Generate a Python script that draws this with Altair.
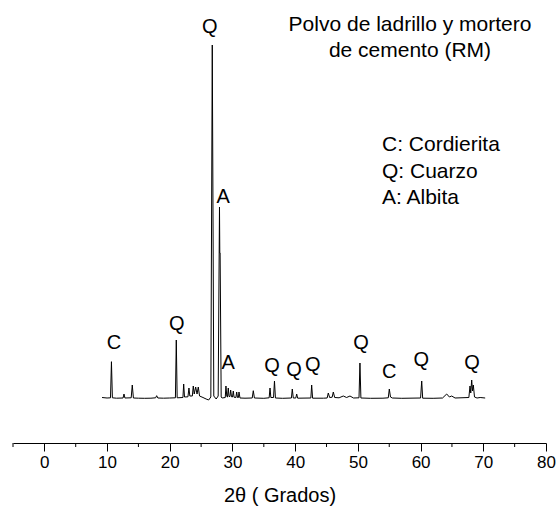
import altair as alt
import pandas as pd

# ---- XRD trace (2-theta in degrees, intensity in counts) ----
two_theta = [
    9.2, 10.0, 10.55, 10.70, 10.85, 11.5, 12.55, 12.70, 12.85, 13.85, 14.02, 14.2,
    15.0, 16.0, 17.0, 17.75, 17.91, 18.1, 19.0, 20.0, 20.9, 21.04, 21.18,
    22.1, 22.22, 22.35, 22.9, 23.06, 23.2, 23.6, 23.75, 23.9, 24.13, 24.35, 24.55, 24.75,
    25.3, 25.8, 26.2, 26.55, 26.78, 27.02, 27.4, 27.72, 27.93, 27.98, 28.03, 28.2, 28.35,
    28.85, 28.96, 29.1, 29.2, 29.33, 29.45, 29.6, 29.71, 29.85, 30.0, 30.13, 30.25,
    30.55, 30.67, 30.8, 30.95, 31.04, 31.2, 32.0, 33.15, 33.32, 33.5, 35.0,
    35.85, 35.99, 36.12, 36.55, 36.70, 36.85, 38.0, 39.4, 39.54, 39.7, 40.1, 40.24, 40.4,
    42.5, 42.63, 42.78, 44.5, 45.1, 45.28, 45.5, 45.9, 46.08, 46.3, 47.0, 47.67, 48.2,
    48.74, 49.3, 50.18, 50.33, 50.48, 52.0, 54.0, 54.85, 55.01, 55.2, 55.5, 57.0,
    60.0, 60.18, 60.33, 62.0, 63.5, 64.16, 64.6, 64.96, 65.5, 67.7, 67.88, 68.0,
    68.15, 68.28, 68.41, 68.6, 69.0, 69.5, 70.3,
]
intensity = [
    455, 450, 452, 813, 452, 448, 450, 490, 450, 452, 580, 450,
    448, 447, 448, 452, 473, 450, 448, 450, 452, 1030, 452,
    455, 590, 460, 462, 550, 470, 470, 570, 490, 560, 490, 560, 470,
    455, 440, 430, 460, 3980, 470, 440, 470, 2360, 1900, 1900, 460, 450,
    455, 570, 465, 460, 550, 465, 465, 530, 462, 460, 520, 458,
    455, 510, 455, 455, 510, 450, 448, 450, 523, 450, 447,
    452, 550, 455, 455, 620, 450, 447, 450, 540, 450, 450, 490, 448,
    450, 580, 448, 448, 450, 500, 455, 458, 510, 455, 452, 470, 455,
    470, 450, 452, 800, 450, 447, 448, 452, 540, 460, 450, 447,
    450, 620, 448, 447, 450, 490, 460, 470, 450, 455, 570, 500,
    630, 520, 580, 460, 450, 455, 450,
]

# ---- phase labels placed above the peaks ----
peak_label = ["Q", "A", "Q", "C", "A", "Q", "Q", "Q", "Q", "C", "Q", "Q"]
label_theta = [26.4, 28.5, 21.1, 11.1, 29.3, 36.3, 39.8, 42.8, 50.5, 55.0, 60.1, 68.2]
label_intensity = [4160, 2460, 1190, 1000, 800, 770, 730, 780, 1000, 710, 830, 800]

major_ticks = [0, 10, 20, 30, 40, 50, 60, 70, 80]
minor_ticks = [-5, 5, 15, 25, 35, 45, 55, 65, 75]

title_lines = ["Polvo de ladrillo y mortero", "de cemento (RM)"]
legend_lines = ["C: Cordierita", "Q: Cuarzo", "A: Albita"]

FONT = "Liberation Sans"
W, H = 533, 443

trace_df = pd.DataFrame({"two_theta": two_theta, "intensity": intensity})
label_df = pd.DataFrame({"two_theta": label_theta, "intensity": label_intensity, "label": peak_label})
minor_df = pd.DataFrame({"two_theta": minor_ticks})
title_df = pd.DataFrame({"t": ["\n".join(title_lines)]})
legend_df = pd.DataFrame({"t": ["\n".join(legend_lines)]})

x_scale = alt.Scale(domain=[-5, 80], nice=False, zero=False)
y_scale = alt.Scale(domain=[0, 4430], nice=False, zero=True)

trace = alt.Chart(trace_df).mark_line(color="black", strokeWidth=1, clip=False).encode(
    x=alt.X(
        "two_theta:Q",
        scale=x_scale,
        axis=alt.Axis(
            values=major_ticks,
            tickSize=8,
            tickColor="black",
            tickWidth=1,
            domainColor="black",
            domainWidth=1,
            grid=False,
            labelFont=FONT,
            labelFontSize=17,
            labelColor="black",
            labelPadding=3,
            labelFlush=False,
            format="d",
            title="2θ ( Grados)",
            titleFont=FONT,
            titleFontSize=20,
            titleFontWeight="normal",
            titleColor="black",
            titlePadding=15,
        ),
    ),
    y=alt.Y("intensity:Q", scale=y_scale, axis=None),
)

minor = alt.Chart(minor_df).mark_rule(color="black", strokeWidth=1).encode(
    x=alt.X("two_theta:Q", scale=x_scale),
    y=alt.value(H),
    y2=alt.value(H + 4),
)

labels = alt.Chart(label_df).mark_text(
    font=FONT, fontSize=20, color="black", align="center", baseline="middle"
).encode(
    x=alt.X("two_theta:Q", scale=x_scale),
    y=alt.Y("intensity:Q", scale=y_scale),
    text="label:N",
)

title = alt.Chart(title_df).mark_text(
    font=FONT, fontSize=21, color="black", align="center", baseline="middle",
    lineBreak="\n", lineHeight=26,
).encode(x=alt.value(397), y=alt.value(25), text="t:N")

legend = alt.Chart(legend_df).mark_text(
    font=FONT, fontSize=21, color="black", align="left", baseline="middle",
    lineBreak="\n", lineHeight=26.5,
).encode(x=alt.value(369), y=alt.value(145), text="t:N")

chart = (
    alt.layer(minor, trace, labels, title, legend)
    .properties(
        width=W,
        height=H,
        autosize=alt.AutoSizeParams(type="none"),
        padding={"left": 13, "top": 0, "right": 10, "bottom": 65},
        background="white",
    )
    .configure_view(stroke=None)
)

chart.save("out.html", embed_options={"renderer": "svg", "actions": False})
